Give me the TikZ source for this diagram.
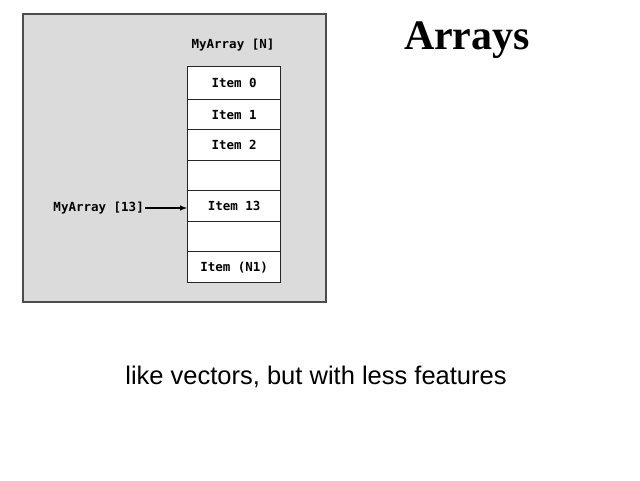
\documentclass[tikz,border=0pt]{standalone}
\usepackage{fontspec}
\setmainfont{Liberation Serif}
\newfontfamily\sansf{Liberation Sans}
\newfontfamily\monof{DejaVu Sans Mono}
\begin{document}
\begin{tikzpicture}[x=1pt,y=-1pt,
  cell/.style={draw=black!85,line width=1.3pt,fill=white,minimum width=93pt,anchor=north west,inner sep=0pt,font=\monof\bfseries\fontsize{12.5}{14}\selectfont},
  lbl/.style={font=\monof\bfseries\fontsize{12.5}{14}\selectfont,inner sep=1pt}]
\useasboundingbox (0,0) rectangle (640,480);
\fill[white] (0,0) rectangle (640,480);
\draw[fill=black!14,draw=black!70,line width=1.3pt] (23,14) rectangle (326,302);
\node[cell,minimum height=33pt] (c0) at (187,66) {Item 0};
\node[cell,minimum height=30pt] (c1) at (187,99) {Item 1};
\node[cell,minimum height=31pt] (c2) at (187,129) {Item 2};
\node[cell,minimum height=30pt] (c3) at (187,160) {};
\node[cell,minimum height=31pt] (c4) at (187,190) {Item 13};
\node[cell,minimum height=30pt] (c5) at (187,221) {};
\node[cell,minimum height=31pt] (c6) at (187,251) {Item (N1)};
\node[lbl] (top) at (233,45) {MyArray [N]};
\node[lbl,anchor=east] (idx) at (145,208) {MyArray [13]};
\draw[line width=1.4pt,-latex] (idx.east) -- (c4.west |- idx.east);
\node[font=\bfseries\fontsize{42}{46}\selectfont] (title) at (467,40) {Arrays};
\node[font=\sansf\fontsize{25.5}{28}\selectfont] (sub) at (316,377) {like vectors, but with less features};
\end{tikzpicture}
\end{document}
